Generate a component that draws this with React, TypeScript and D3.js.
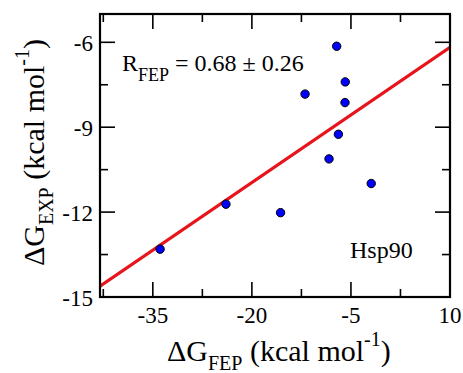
import React from "react";
import * as d3 from "d3";

const fepValues = [-7.16, -5.86, -11.95, -5.9, -6.9, -8.32, -1.93, -23.93, -15.66, -33.9];
const expValues = [-6.14, -7.4, -7.83, -8.13, -9.25, -10.12, -10.99, -11.72, -12.02, -13.31];
const fitLineX = [-43, 10];
const fitLineY = [-14.62, -6.18];
const xTickLabels = [-35, -20, -5, 10];
const xMinorTicks = [-42.5, -27.5, -12.5, 2.5];
const yTickLabels = [-15, -12, -9, -6];
const yMinorTicks = [-13.5, -10.5, -7.5];

const W = 463;
const H = 373;
const L = 100, R = 450, T = 14, B = 297;
const FONT = "'Liberation Serif', 'Times New Roman', serif";

export default function App() {
  const x = d3.scaleLinear().domain([-43, 10]).range([L, R]);
  const y = d3.scaleLinear().domain([-15, -5]).range([B, T]);
  const line = d3.line<number>().x((d, i) => x(fitLineX[i])).y((d, i) => y(fitLineY[i]));
  const major = 15, minor = 8;
  return (
    <svg width={W} height={H} style={{ position: "absolute", left: 0, top: 0, background: "#fff" }}>
      <defs>
        <clipPath id="plot"><rect x={L} y={T} width={R - L} height={B - T} /></clipPath>
      </defs>
      <path d={line(fitLineX) || ""} stroke="#e8141c" strokeWidth={3.2} fill="none" clipPath="url(#plot)" />
      {fepValues.map((v, i) => (
        <circle key={i} cx={x(v)} cy={y(expValues[i])} r={4.2} fill="#0000ff" stroke="#000" strokeWidth={1} />
      ))}
      <g stroke="#000" strokeWidth={1.6}>
        {xTickLabels.map((t) => (
          <g key={"x" + t}>
            <line x1={x(t)} x2={x(t)} y1={B} y2={B - major} />
            <line x1={x(t)} x2={x(t)} y1={T} y2={T + major} />
          </g>
        ))}
        {xMinorTicks.map((t) => (
          <g key={"xm" + t}>
            <line x1={x(t)} x2={x(t)} y1={B} y2={B - minor} />
            <line x1={x(t)} x2={x(t)} y1={T} y2={T + minor} />
          </g>
        ))}
        {yTickLabels.map((t) => (
          <g key={"y" + t}>
            <line x1={L} x2={L + major} y1={y(t)} y2={y(t)} />
            <line x1={R} x2={R - major} y1={y(t)} y2={y(t)} />
          </g>
        ))}
        {yMinorTicks.map((t) => (
          <g key={"ym" + t}>
            <line x1={L} x2={L + minor} y1={y(t)} y2={y(t)} />
            <line x1={R} x2={R - minor} y1={y(t)} y2={y(t)} />
          </g>
        ))}
      </g>
      <rect x={L} y={T} width={R - L} height={B - T} fill="none" stroke="#000" strokeWidth={2.2} />
      <g fontFamily={FONT} fontSize={23} fill="#000">
        {xTickLabels.map((t) => (
          <text key={"xl" + t} x={x(t)} y={323} textAnchor="middle">{t}</text>
        ))}
        {yTickLabels.map((t) => (
          <text key={"yl" + t} x={93} y={y(t) + 9} textAnchor="end">{t}</text>
        ))}
      </g>
      <text x={122} y={71} fontFamily={FONT} fontSize={24}>
        R<tspan fontSize={18} dy={10}>FEP</tspan><tspan dy={-10}> = 0.68 ± 0.26</tspan>
      </text>
      <text x={350} y={258} fontFamily={FONT} fontSize={24}>Hsp90</text>
      <text x={167} y={361} fontFamily={FONT} fontSize={30}>
        ΔG<tspan fontSize={20} dy={9}>FEP</tspan><tspan dy={-9}> (kcal mol</tspan><tspan fontSize={20} dy={-15}>-1</tspan><tspan dy={15}>)</tspan>
      </text>
      <text transform={`translate(43.5,152.5) rotate(-90)`} textAnchor="middle" fontFamily={FONT} fontSize={30}>
        ΔG<tspan fontSize={20} dy={9}>EXP</tspan><tspan dy={-9}> (kcal mol</tspan><tspan fontSize={20} dy={-15}>-1</tspan><tspan dy={15}>)</tspan>
      </text>
    </svg>
  );
}
